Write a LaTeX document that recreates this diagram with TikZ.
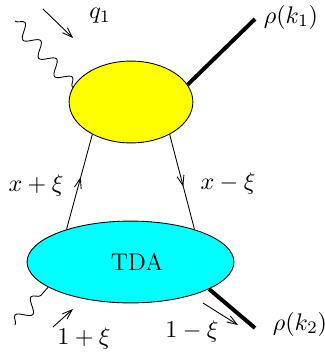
\documentclass[tikz,border=0pt]{standalone}
\usetikzlibrary{shapes.geometric,decorations.pathmorphing,decorations.markings,arrows.meta}
\definecolor{blobyellow}{RGB}{255,255,0}
\definecolor{blobcyan}{RGB}{0,255,255}
\tikzset{
  >={Straight Barb[length=4.5pt,width=3.2pt]},
  every node/.style={font=\fontsize{11}{13}\selectfont},
  blob/.style={ellipse,draw,inner sep=0pt,minimum height=13.1mm},
  photon/.style={decorate,decoration={snake,segment length=11pt,amplitude=3pt}},
  meson/.style={line width=1.8pt},
  quark/.style={postaction={decorate},decoration={markings,mark=at position .55 with {\arrow{>}}}}
}
\begin{document}
\begin{tikzpicture}[x=.16mm,y=-.16mm]
  \useasboundingbox (0,0) rectangle (325,355);
  \node[blob,fill=blobyellow,minimum width=19.8mm] (hard) at (131,102) {};
  \node[blob,fill=blobcyan,minimum width=33.1mm] (tda) at (130.5,262) {};
  \node at (137,262) {TDA};
  % incoming photon and outgoing mesons
  \coordinate (g1) at (15,21); \coordinate (g2) at (15,325);
  \coordinate (r1) at (255,19); \coordinate (r2) at (255,328);
  \draw[photon] (g1)--(hard.166); \draw[photon] (g2)--(tda.197);
  \draw[meson] (hard.17)--(r1); \draw[meson] (tda.341)--(r2);
  % quark lines
  \draw[quark] (tda.153)--(hard.220); \draw[quark] (hard.320)--(tda.27);
  % momentum arrows
  \coordinate (a1) at (43,9); \coordinate (b1) at (73,38); \draw[->] (a1)--(b1);
  \coordinate (a2) at (53,327); \coordinate (b2) at (73,309); \draw[->] (a2)--(b2);
  \coordinate (a3) at (203,303); \coordinate (b3) at (238,325); \draw[->] (a3)--(b3);
  \node (lq) at (100,16) {$q_1$}; \node (lr1) at (291,17) {$\rho(k_1)$}; \node (lr2) at (300,324) {$\rho(k_2)$};
  \node (lxp) at (36,185) {$x+\xi$}; \node (lxm) at (228,183) {$x-\xi$};
  \node (lop) at (84,338) {$1+\xi$}; \node (lom) at (192,331) {$1-\xi$};
\end{tikzpicture}
\end{document}
